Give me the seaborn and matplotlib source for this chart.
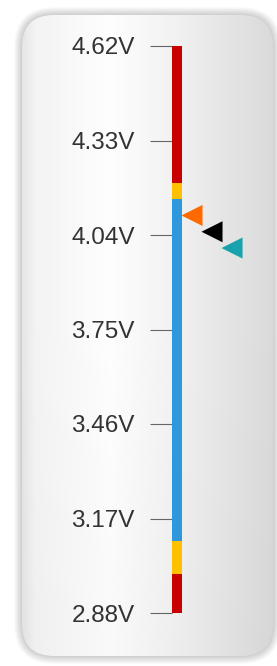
import matplotlib
matplotlib.use('Agg')
import matplotlib.pyplot as plt
import seaborn as sns
import pandas as pd
import numpy as np
from matplotlib.patches import FancyBboxPatch

# voltage scale
ticks = [4.62, 4.33, 4.04, 3.75, 3.46, 3.17, 2.88]
tick_labels = ['4.62V', '4.33V', '4.04V', '3.75V', '3.46V', '3.17V', '2.88V']

# band tops, drawn largest first so each shorter one covers the one before
band_tops = [4.62, 4.20, 4.15, 3.10, 3.00]
band_colors = ['#c80000', '#ffc000', '#2f98dc', '#ffc000', '#c80000']

# cell voltages shown as arrows
cell_names = ['cell 1', 'cell 2', 'cell 3']
cell_volts = [4.10, 4.05, 4.00]
cell_colors = ['#ff6a00', '#000000', '#18a2ae']

sns.set_style('white')
plt.rcParams['font.family'] = ['Liberation Sans', 'DejaVu Sans']

W, H = 277, 666
fig = plt.figure(figsize=(W / 100, H / 100), dpi=100)
fig.patch.set_facecolor('white')

# card behind the gauge (pixel coordinates)
bg = fig.add_axes([0, 0, 1, 1], zorder=0)
bg.set_xlim(0, W)
bg.set_ylim(H, 0)
bg.axis('off')
cx, cy, cw, ch, r = 22, 15, 251, 641, 32
# soft shadow
for pad in range(16, 0, -1):
    bg.add_patch(FancyBboxPatch((cx - pad / 2, cy - pad / 2), cw + pad, ch + pad,
                                boxstyle=f'round,pad=0,rounding_size={r + pad / 2}',
                                fc='black', ec='none', alpha=0.012, zorder=1))
card = FancyBboxPatch((cx, cy), cw, ch, boxstyle=f'round,pad=0,rounding_size={r}',
                      fc='none', ec='none')
bg.add_patch(card)
stops_x = [0, 0.05, 0.35, 0.6, 1.0]
stops_v = [0.90, 0.955, 0.995, 0.95, 0.855]
gx = np.interp(np.linspace(0, 1, 256), stops_x, stops_v)
gy = np.interp(np.linspace(0, 1, 64), [0, 0.5, 1], [1.0, 1.0, 0.985])
grad = np.clip(gy[:, None] * gx[None, :], 0, 1)
img = bg.imshow(np.dstack([grad] * 3), extent=(cx, cx + cw, cy + ch, cy),
                aspect='auto', interpolation='bilinear', zorder=2)
img.set_clip_path(card)

# gauge axes: left edge at the bar, x in pixels
x0, top_px, bot_px = 172, 46, 613
ax = fig.add_axes([x0 / W, (H - bot_px) / H, (W - x0) / W, (bot_px - top_px) / H], zorder=1)
ax.set_facecolor('none')

bar_w = 9.5
for top, col in zip(band_tops, band_colors):
    sns.barplot(x=[bar_w / 2], y=[top], native_scale=True, width=bar_w, saturation=1,
                color=col, linewidth=0, errorbar=None, ax=ax)

lanes = [20 * (i + 1) for i in range(len(cell_volts))]
df = pd.DataFrame({'lane': lanes, 'volt': cell_volts, 'cell': cell_names})
sns.scatterplot(data=df, x='lane', y='volt', hue='cell', palette=cell_colors,
                marker='<', s=230, linewidth=0, legend=False, ax=ax, clip_on=False)

ax.set_xlim(0, W - x0)
ax.set_ylim(min(ticks), max(ticks))
ax.set_yticks(ticks, tick_labels)
ax.set_xticks([])
ax.set_xlabel('')
ax.set_ylabel('')
ax.tick_params(axis='y', direction='out', length=15.8, width=0.8, color='#666666',
               pad=11, labelsize=17.5, labelcolor='#333333', left=True)
for s in ax.spines.values():
    s.set_visible(False)

fig.savefig('out.png', dpi=100)
